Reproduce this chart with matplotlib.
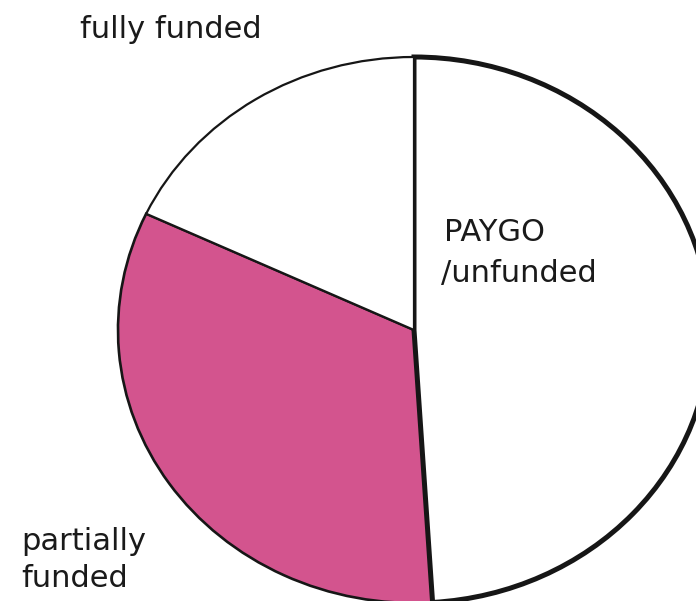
import matplotlib
matplotlib.use("Agg")
import matplotlib.pyplot as plt

# Pension funding status shares (percent)
categories = ["fully funded", "partially funded", "PAYGO/unfunded"]
shares = [18, 33, 49]
colors = ["#ffffff", "#d3548e", "#ffffff"]
edge_widths = [1.6, 1.9, 3.6]
layers = [3, 1, 2]

W, H = 696, 601
fig = plt.figure(figsize=(W / 100, H / 100), dpi=100)
ax = fig.add_axes([0, 0, 1, 1])

wedges, _ = ax.pie(shares, colors=colors, startangle=90, counterclock=True,
                   radius=1.0, center=(0, 0),
                   wedgeprops=dict(edgecolor="#161616"))
for w, lw, z in zip(wedges, edge_widths, layers):
    w.set_linewidth(lw)
    w.set_zorder(z)

# slightly wide ellipse, cut off at the right and bottom edges
cx, cy, rx, ry = 414, 330, 296, 273
ax.set_aspect("auto")
ax.set_xlim(-cx / rx, (W - cx) / rx)
ax.set_ylim(-(H - cy) / ry, cy / ry)
ax.axis("off")

font = dict(family="DejaVu Sans", size=22, color="#1a1a1a", va="baseline")


def put(text, px, py):
    fig.text(px / W, 1 - py / H, text, **font)


put("fully funded", 80, 38)
put("partially", 21, 550)
put("funded", 21, 587)
put("PAYGO", 444, 241)
put("/unfunded", 441, 282)

fig.savefig("out.png", dpi=100)
